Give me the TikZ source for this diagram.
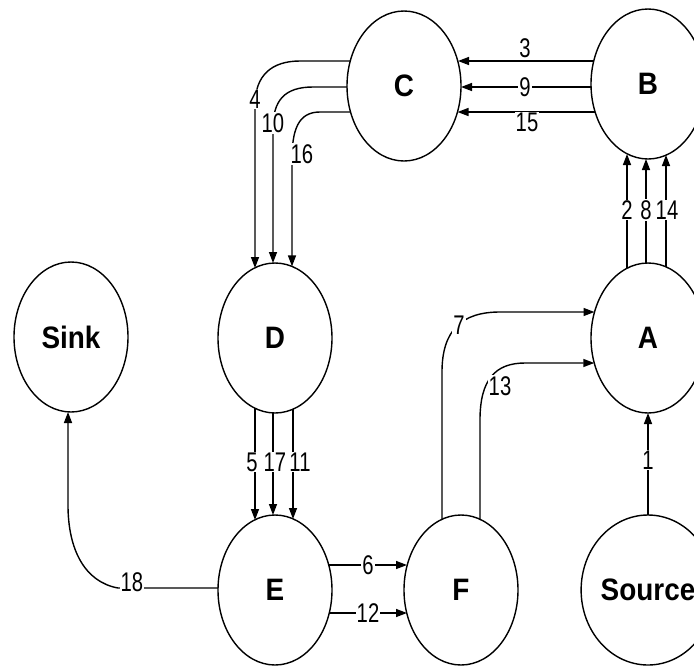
\documentclass[tikz,border=0pt]{standalone}
\usepackage{fontspec}
\usetikzlibrary{shapes.geometric,arrows.meta,calc}
\newfontfamily\nodefnt[FakeStretch=0.9]{Liberation Sans}
\newfontfamily\lblfnt[FakeStretch=0.75]{Liberation Sans}
\begin{document}
\begin{tikzpicture}[x=1pt,y=-1pt,
  state/.style={ellipse,draw,line width=1.4pt,minimum width=114pt,minimum height=150pt,inner sep=0pt,
    font=\nodefnt\bfseries\fontsize{31}{31}\selectfont},
  arr/.style={line width=1.4pt,-{Triangle[length=11pt,width=8pt]}},
  lbl/.style={fill=white,inner sep=1pt,font=\lblfnt\fontsize{27}{27}\selectfont}]
\useasboundingbox (0,0) rectangle (694,665);
\clip (0,0) rectangle (694,665);

\node[state] (C) at (404,86) {C};
\node[state] (B) at (648,84) {B};
\node[state] (Sink) at (71,337) {Sink};
\node[state] (D) at (275,338) {D};
\node[state] (A) at (648,338) {A};
\node[state] (E) at (275,590) {E};
\node[state] (F) at (461,590) {F};
\node[state] (Source) at (648,590) {Source};

% B -> C
\draw[arr] ($(B)+(-54,-23)$) -- ($(C)+(54,-25)$);
\draw[arr] ($(B)+(-57,3)$) -- ($(C)+(57,1)$);
\draw[arr] ($(B)+(-53,28)$) -- ($(C)+(53.5,26)$);
% C -> D
\draw[arr] ($(C)+(-54,-25)$) -- (300,61) .. controls (272,61) and (255,75) .. (255,105) -- ($(D)+(-20,-70)$);
\draw[arr] ($(C)+(-57,1)$) -- (313,87) .. controls (285,87) and (273,100) .. (273,128) -- ($(D)+(-2,-75)$);
\draw[arr] ($(C)+(-53.5,26)$) -- (320,112) .. controls (298,112) and (292,130) .. (292,160) -- ($(D)+(17,-71.6)$);
% A -> B
\draw[arr] ($(A)+(-21,-70)$) -- ($(B)+(-21,70)$);
\draw[arr] ($(A)+(-2,-75)$) -- ($(B)+(-2,75)$);
\draw[arr] ($(A)+(18,-71)$) -- ($(B)+(18,71)$);
% D -> E
\draw[arr] ($(D)+(-20,70)$) -- ($(E)+(-20,-70)$);
\draw[arr] ($(D)+(-2,75)$) -- ($(E)+(-2,-75)$);
\draw[arr] ($(D)+(18,71)$) -- ($(E)+(18,-71)$);
% E -> F
\draw[arr] ($(E)+(54,-25)$) -- ($(F)+(-54,-25)$);
\draw[arr] ($(E)+(54,23)$) -- ($(F)+(-54,23)$);
% F -> A
\draw[arr] ($(F)+(-19,-71)$) -- (442,372) .. controls (442,330) and (462,312) .. (500,312) -- ($(A)+(-53.5,-26)$);
\draw[arr] ($(F)+(19,-71)$) -- (480,420) .. controls (480,380) and (495,363) .. (525,363) -- ($(A)+(-53.7,25)$);
% Source -> A
\draw[arr] ($(Source)+(0,-75)$) -- ($(A)+(0,75)$);
% E -> Sink
\draw[arr] ($(E)+(-57,-2)$) -- (118,588) .. controls (85,582) and (68,550) .. (68,505) -- ($(Sink)+(-3,75)$);

% labels
\node[lbl] (l3) at (525,48) {3};
\node[lbl] (l9) at (525,87) {9};
\node[lbl] (l15) at (527,122) {15};
\node[lbl] (l4) at (255,99) {4};
\node[lbl] (l10) at (273,123) {10};
\node[lbl] (l16) at (302,154) {16};
\node[lbl] (l2) at (627,210) {2};
\node[lbl] (l8) at (646,210) {8};
\node[lbl] (l14) at (667,210) {14};
\node[lbl] (l5) at (252,462) {5};
\node[lbl] (l17) at (275,462) {17};
\node[lbl] (l11) at (300,462) {11};
\node[lbl] (l6) at (368,565) {6};
\node[lbl] (l12) at (368,613) {12};
\node[lbl] (l7) at (459,325) {7};
\node[lbl] (l13) at (500,386) {13};
\node[lbl] (l1) at (648,460) {1};
\node[lbl] (l18) at (132,582) {18};
\end{tikzpicture}
\end{document}
